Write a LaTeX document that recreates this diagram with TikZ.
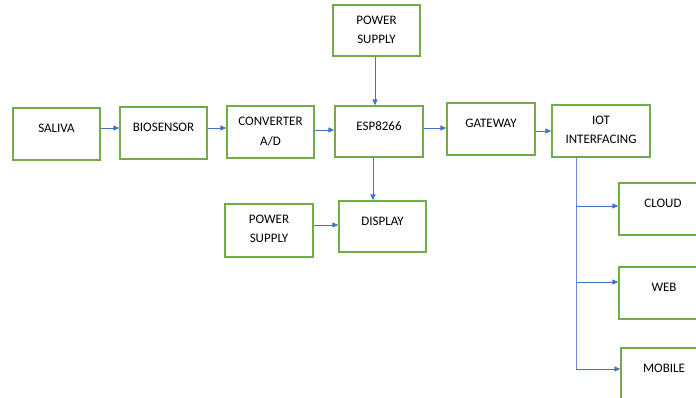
\documentclass[tikz,border=0pt]{standalone}
\usepackage{fontspec}
\setmainfont{Carlito}
\usetikzlibrary{arrows.meta}
\definecolor{boxgreen}{HTML}{70AD47}
\definecolor{arrowblue}{HTML}{4472C4}
\tikzset{
  blk/.style={draw=boxgreen, line width=1.3pt, fill=white, minimum width=87pt, minimum height=52pt, inner sep=0pt},
  one/.style={font=\fontsize{13pt}{19.3pt}\selectfont, text height=8.4pt, text depth=0pt, inner sep=0pt},
  two/.style={font=\fontsize{13pt}{19.3pt}\selectfont, align=center, inner sep=0pt},
  conn/.style={draw=arrowblue, line width=0.9pt, -{Triangle[length=6pt,width=5pt]}},
  trunk/.style={draw=arrowblue!80, line width=0.8pt}
}
\begin{document}
\begin{tikzpicture}[x=1pt,y=-1pt]
\useasboundingbox (0,0) rectangle (696,398);
\clip (0,0) rectangle (696,398);
% boxes
\node[blk] (saliva) at (56.5,134) {};
\node[blk] (bio) at (163.5,133) {};
\node[blk] (conv) at (270.5,132) {};
\node[blk, minimum width=88pt, minimum height=51pt] (esp) at (379,131.5) {};
\node[blk, minimum height=51pt] (ps1) at (376.5,30.5) {};
\node[blk, minimum width=88pt] (gw) at (491,129) {};
\node[blk, minimum width=98pt] (iot) at (601,131) {};
\node[blk, minimum height=51pt] (disp) at (382.5,226.5) {};
\node[blk, minimum width=88pt, minimum height=53pt] (ps2) at (269,230.5) {};
\node[blk, minimum width=88pt] (cloud) at (663,209) {};
\node[blk, minimum width=88pt] (web) at (663,293) {};
\node[blk, minimum width=88pt] (mobile) at (665,374) {};
% texts
\node[one] (saliva-t) at (56.5,128.5) {SALIVA};
\node[one] (bio-t) at (163.5,127.5) {BIOSENSOR};
\node[two] (conv-t) at (270.5,131.7) {CONVERTER\\A/D};
\node[one] (esp-t) at (379,126.7) {ESP8266};
\node[two] (ps1-t) at (376.5,30) {POWER\\SUPPLY};
\node[one] (gw-t) at (491,123) {GATEWAY};
\node[two] (iot-t) at (601,130) {IOT\\INTERFACING};
\node[one] (disp-t) at (382.5,221.7) {DISPLAY};
\node[two] (ps2-t) at (269,228.5) {POWER\\SUPPLY};
\node[one] (cloud-t) at (663,203.5) {CLOUD};
\node[one] (web-t) at (664,287) {WEB};
\node[one] (mobile-t) at (664,368) {MOBILE};
% connectors
\draw[conn] (saliva.east |- 0,128) -- (bio.west |- 0,128);
\draw[conn] (bio.east |- 0,128) -- (conv.west |- 0,128);
\draw[conn] (conv.east |- 0,130) -- (esp.west |- 0,130);
\draw[conn] (ps1.south -| 375,0) -- (esp.north -| 375,0);
\draw[conn] (esp.east |- 0,128) -- (gw.west |- 0,128);
\draw[conn] (gw.east |- 0,131) -- (iot.west |- 0,131);
\draw[conn] (esp.south -| 373,0) -- (disp.north -| 373,0);
\draw[conn] (ps2.east |- 0,225) -- (disp.west |- 0,225);
% IoT branches
\coordinate (top) at (iot.south -| 576,0);
\coordinate (b1) at (576,206);
\coordinate (b2) at (576,282);
\coordinate (b3) at (576,369);
\draw[trunk] (top) -- (b3);
\draw[conn] (b1) -- (cloud.west |- b1);
\draw[conn] (b2) -- (web.west |- b2);
\draw[conn] (b3) -- (mobile.west |- b3);
\end{tikzpicture}
\end{document}
